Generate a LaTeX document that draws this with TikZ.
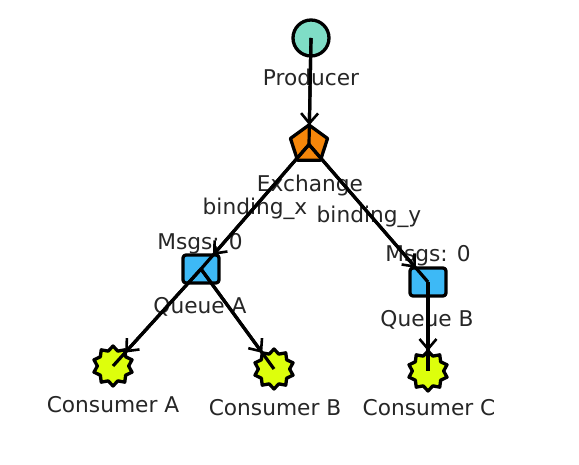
\documentclass[tikz,border=0pt]{standalone}
\usepackage{fontspec}
\setmainfont{DejaVu Sans}
\usetikzlibrary{arrows.meta,shapes.geometric}

\begin{document}
\begin{tikzpicture}[>={Straight Barb[length=10bp,width=17bp,line width=2.6bp]},line join=round,]
\tikzstyle{every node}=[inner sep=0pt,outer sep=0pt]
\tikzstyle{comp}=[draw=black,line width=3.3bp]
\tikzstyle{lbl}=[text=black!85,font=\fontsize{21.7bp}{24bp}\selectfont]
\tikzstyle{edge}=[line width=3.2bp,black]
\tikzstyle{queue}=[comp,fill=QueueBlue,rectangle,rounded corners=3bp,minimum width=36bp,minimum height=28bp]
\tikzstyle{consumer}=[comp,fill=ConsumerLime,star,star points=10,star point ratio=1.28,minimum size=40bp]
\definecolor{ProducerTeal}{HTML}{7FDDC6}
\definecolor{ExchangeOrange}{HTML}{F5860A}
\definecolor{QueueBlue}{HTML}{3DB9F6}
\definecolor{ConsumerLime}{HTML}{DDFF0C}
\useasboundingbox (0bp,0bp) rectangle (579bp,465bp);
  \node (lprod) at (311bp,388bp) [lbl] {Producer};
  \node (lexch) at (310bp,279.5bp) [lbl] {Exchange};
  \node (lbx) at (255bp,256.5bp) [lbl] {binding\_x};
  \node (lby) at (369bp,248.5bp) [lbl] {binding\_y};
  \node (lma) at (200bp,221.5bp) [lbl] {Msgs: 0};
  \node (lmb) at (428bp,209.5bp) [lbl] {Msgs: 0};
  \node (lqa) at (200bp,158.5bp) [lbl] {Queue A};
  \node (lqb) at (427bp,145.5bp) [lbl] {Queue B};
  \node (lca) at (113bp,60.5bp) [lbl] {Consumer A};
  \node (lcb) at (275bp,57.5bp) [lbl] {Consumer B};
  \node (lcc) at (429bp,57.5bp) [lbl] {Consumer C};

  \node (prod) at (311bp,427bp) [comp,fill=ProducerTeal,circle,minimum size=36bp] {};
  \node (exch) at (309bp,320.5bp) [comp,fill=ExchangeOrange,regular polygon,regular polygon sides=5,minimum size=39bp] {};
  \node (qa) at (201bp,196bp) [queue] {};
  \node (qb) at (428bp,183bp) [queue] {};
  \node (ca) at (113bp,99bp) [consumer] {};
  \node (cb) at (274bp,96bp) [consumer] {};
  \node (cc) at (428bp,94bp) [consumer] {};

  \foreach \from/\to in {prod/exch,exch/qa,exch/qb,qa/ca,qa/cb,qb/cc} {
    \draw [edge] (\from.center) -- (\to.center);
    \draw [edge,->] (\from.center) -- (\to);
  }
\end{tikzpicture}
\end{document}
